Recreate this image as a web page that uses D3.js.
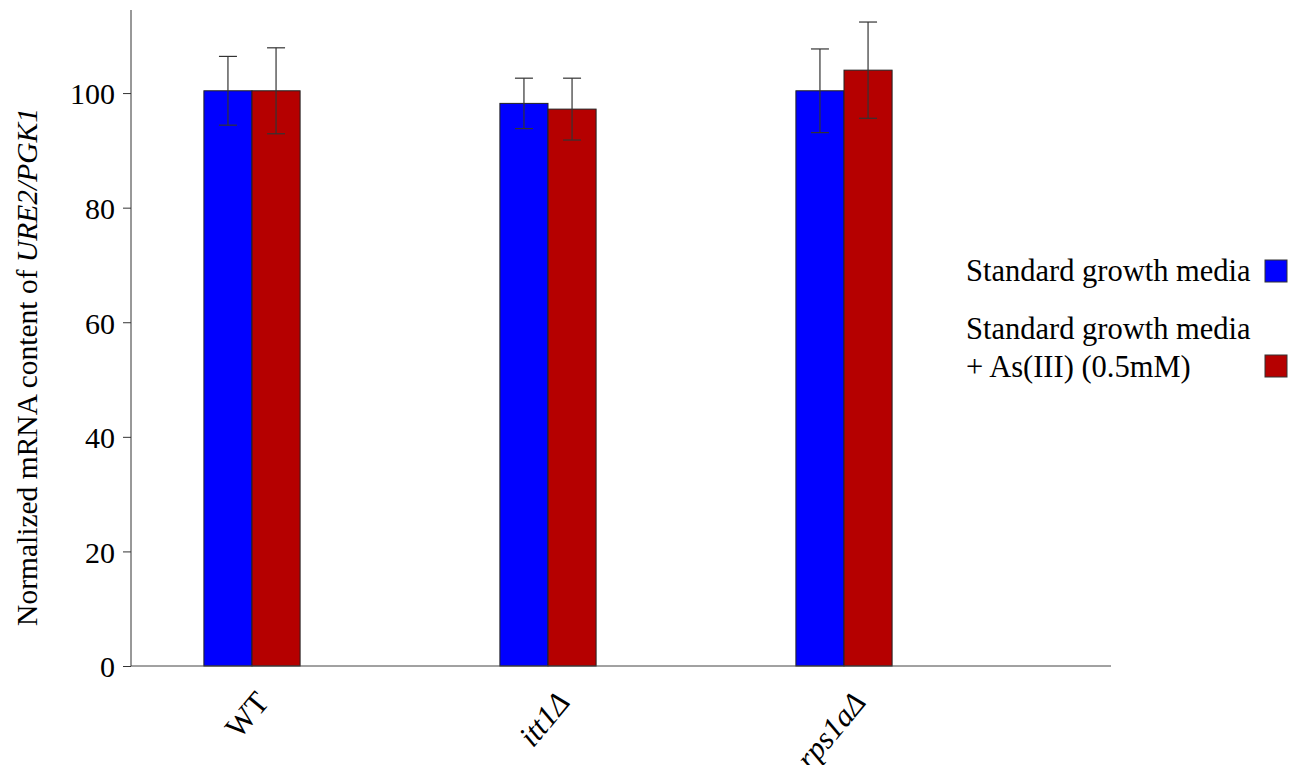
<!DOCTYPE html>
<html><head><meta charset="utf-8">
<script src="https://cdn.jsdelivr.net/npm/d3@7"></script>
<style>body{margin:0;background:#fff}svg{display:block}text{font-family:"Liberation Serif","Times New Roman",serif;fill:#000}</style>
</head><body>
<script>
const categories = ["WT", "itt1\u0394", "rps1a\u0394"];
const categoryItalic = [false, true, true];
const seriesNames = ["Standard growth media", "Standard growth media\n+ As(III) (0.5mM)"];
const seriesColors = ["#0000ff", "#b50000"];
const standardValues = [100.4, 98.2, 100.4];
const standardErrors = [6.0, 4.4, 7.3];
const arsenicValues = [100.4, 97.2, 104.0];
const arsenicErrors = [7.5, 5.4, 8.4];
const yTicks = [0, 20, 40, 60, 80, 100];

const W = 1303, H = 765;
const svg = d3.select("body").append("svg").attr("width", W).attr("height", H);
const x0 = 131, x1 = 1111, yTop = 10, yBot = 666;
const y = d3.scaleLinear().domain([0, 114.5]).range([yBot, yTop]);
const xc = d3.scaleBand().domain(categories).range([104, 992]).paddingInner(0.675).paddingOuter(0.3375);
const xs = d3.scaleBand().domain([0, 1]).range([0, xc.bandwidth()]);

const series = [
  {vals: standardValues, errs: standardErrors},
  {vals: arsenicValues, errs: arsenicErrors}
];
const FF = '"Liberation Serif","Times New Roman",serif';

// axes
const yAxis = d3.axisLeft(y).tickValues(yTicks).tickSize(8).tickPadding(8);
const gy = svg.append("g").attr("transform", `translate(${x0},0)`).call(yAxis);
gy.attr("font-family", FF).attr("font-size", 30);
gy.select(".domain").remove();
gy.selectAll(".tick line").attr("stroke", "#333");
gy.selectAll(".tick text").attr("fill", "#000").attr("dy", "0.36em");
svg.append("line").attr("x1", x0).attr("x2", x0).attr("y1", yTop).attr("y2", yBot).attr("stroke", "#333");

// bars
series.forEach((s, si) => {
  const g = svg.append("g");
  g.selectAll("rect").data(categories).join("rect")
    .attr("x", c => xc(c) + xs(si))
    .attr("width", xs.bandwidth())
    .attr("y", (c, i) => y(s.vals[i]))
    .attr("height", (c, i) => yBot - y(s.vals[i]))
    .attr("fill", seriesColors[si]).attr("stroke", "#222").attr("stroke-width", 1);
});
// error bars
series.forEach((s, si) => {
  const g = svg.append("g").attr("stroke", "#333").attr("stroke-width", 1.2);
  categories.forEach((c, i) => {
    const cx = xc(c) + xs(si) + xs.bandwidth() / 2;
    const top = y(s.vals[i] + s.errs[i]), bot = y(s.vals[i] - s.errs[i]);
    g.append("line").attr("x1", cx).attr("x2", cx).attr("y1", top).attr("y2", bot);
    g.append("line").attr("x1", cx - 9).attr("x2", cx + 9).attr("y1", top).attr("y2", top);
    g.append("line").attr("x1", cx - 9).attr("x2", cx + 9).attr("y1", bot).attr("y2", bot);
  });
});

// x axis line
svg.append("line").attr("x1", x0).attr("x2", x1).attr("y1", yBot).attr("y2", yBot).attr("stroke", "#444");

// x labels
categories.forEach((c, i) => {
  const cx = xc(c) + xc.bandwidth() / 2;
  svg.append("text")
    .attr("transform", `translate(${cx + (i === 0 ? 10 : 15)},${yBot + 30}) rotate(-50)`)
    .attr("text-anchor", "end").attr("dy", "0.35em")
    .style("font-size", "31px").style("font-style", categoryItalic[i] ? "italic" : "normal")
    .text(c);
});

// y label
const yl = svg.append("text")
  .attr("transform", `translate(37,367) rotate(-90)`)
  .attr("text-anchor", "middle").style("font-size", "29.5px");
yl.append("tspan").text("Normalized mRNA content of ");
yl.append("tspan").style("font-style", "italic").text("URE2/PGK1");

// legend
const leg = svg.append("g");
const legY = [271, 366];
seriesNames.forEach((n, i) => {
  const lines = n.split("\n");
  const t = leg.append("text").attr("x", 966).style("font-size", "30.5px");
  lines.forEach((ln, k) => {
    const base = lines.length === 1 ? legY[i] + 10 : legY[i] + 11 - (lines.length - 1 - k) * 38;
    t.append("tspan").attr("x", 966).attr("y", base).text(ln);
  });
  leg.append("rect").attr("x", 1265).attr("y", legY[i] - 11).attr("width", 22).attr("height", 22)
    .attr("fill", seriesColors[i]).attr("stroke", "#333").attr("stroke-width", 1);
});
</script>
</body></html>
